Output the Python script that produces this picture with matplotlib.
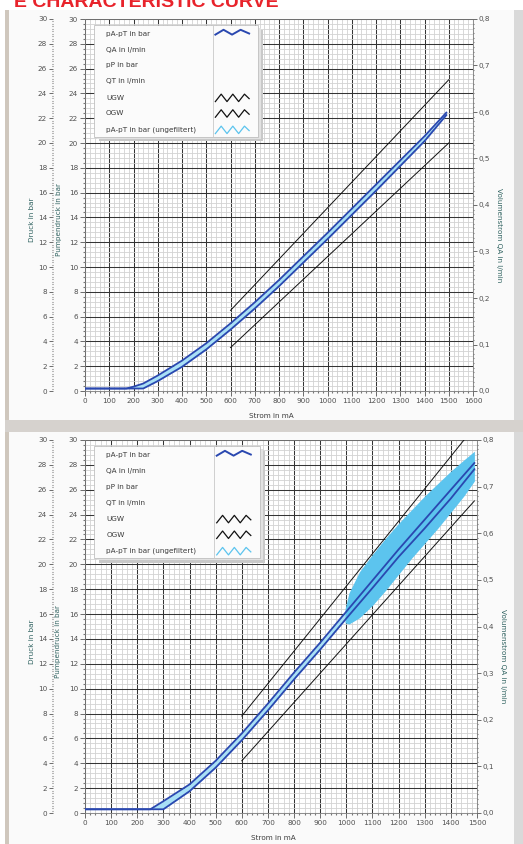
import matplotlib
matplotlib.use('Agg')
import matplotlib.pyplot as plt
from matplotlib.patches import Rectangle
from matplotlib.lines import Line2D
from matplotlib.ticker import MultipleLocator, FuncFormatter, FixedLocator

W, H = 523, 844

# ---------------- data ----------------
title = "E CHARACTERISTIC CURVE"
legend_labels = ["pA-pT in bar", "QA in l/min", "pP in bar", "QT in l/min",
                 "UGW", "OGW", "pA-pT in bar (ungefiltert)"]

# panel 1 (0..1600 mA)
p1_current = [0, 100, 170, 200, 240, 300, 400, 500, 600, 700, 800, 900,
              1000, 1100, 1200, 1300, 1400, 1490]
p1_up = [0.2, 0.2, 0.2, 0.35, 0.6, 1.25, 2.45, 3.85, 5.45, 7.15, 8.95, 10.85,
         12.75, 14.7, 16.65, 18.6, 20.55, 22.45]
p1_down = [0.2, 0.2, 0.2, 0.2, 0.2, 0.8, 1.95, 3.35, 4.95, 6.65, 8.45, 10.35,
           12.25, 14.2, 16.15, 18.15, 20.15, 22.25]
p1_ugw_x = [600, 1500]
p1_ugw_y = [3.5, 20.0]
p1_ogw_x = [600, 1500]
p1_ogw_y = [6.5, 25.1]

# panel 2 (0..1500 mA)
p2_current = [0, 100, 200, 250, 300, 400, 500, 600, 700, 800, 900, 1000,
              1100, 1200, 1300, 1400, 1490]
p2_up = [0.3, 0.3, 0.3, 0.3, 0.95, 2.3, 4.2, 6.4, 8.8, 11.3, 13.7, 16.2,
         18.7, 21.2, 23.6, 26.0, 28.15]
p2_down = [0.3, 0.3, 0.3, 0.3, 0.3, 1.75, 3.65, 5.85, 8.25, 10.75, 13.15, 15.65,
           18.1, 20.6, 22.9, 25.3, 27.65]
p2_ugw_x = [600, 1490]
p2_ugw_y = [4.2, 25.1]
p2_ogw_x = [600, 1500]
p2_ogw_y = [7.8, 31.3]
p2_raw_x = [995, 1010, 1050, 1100, 1150, 1200, 1250, 1300, 1350, 1400, 1450, 1490]
p2_raw_hi = [16.4, 17.7, 19.4, 20.8, 22.1, 23.3, 24.4, 25.5, 26.5, 27.5, 28.4, 29.1]
p2_raw_lo = [15.3, 15.2, 15.7, 16.7, 17.9, 19.2, 20.5, 21.7, 22.9, 24.2, 25.5, 26.7]

x_ticks_1 = list(range(0, 1601, 100))
x_ticks_2 = list(range(0, 1501, 100))
y_ticks = list(range(0, 31, 2))
q_ticks = [0.0, 0.1, 0.2, 0.3, 0.4, 0.5, 0.6, 0.7, 0.8]

# ---------------- style ----------------
DARK = '#2a48b0'
LIGHT = '#5cc4ee'
BAND = '#a8e0f6'
TXT = '#505050'
LBL = '#2f6260'
FS = 5.2

fig = plt.figure(figsize=(W / 100, H / 100), dpi=100)
fig.patch.set_facecolor('#ffffff')


def rect_px(x, y, w, h, **kw):
    fig.add_artist(Rectangle((x / W, 1 - (y + h) / H), w / W, h / H,
                             transform=fig.transFigure, zorder=-1, **kw))


# panel backgrounds / frame
rect_px(9, 10, 506, 410, facecolor='#fafafa', edgecolor='none')
rect_px(9, 432, 506, 412, facecolor='#fafafa', edgecolor='none')
rect_px(5, 10, 4, 834, facecolor='#cfc7bd', edgecolor='none')
rect_px(514, 10, 9, 834, facecolor='#d9d9d9', edgecolor='none')
rect_px(5, 420, 518, 12, facecolor='#d6d2ce', edgecolor='none')

fig.text(14 / W, 1 - 7 / H, title, color='#e8232b', fontsize=14,
         fontweight='bold', family='Liberation Sans', ha='left', va='baseline')


def make_panel(px_left, px_top, px_right, px_bottom, xmax, xticks,
               cur, up, down, ugw_x, ugw_y, ogw_x, ogw_y,
               raw=None, label_y_frac=0.46):
    ax = fig.add_axes([px_left / W, 1 - px_bottom / H,
                       (px_right - px_left) / W, (px_bottom - px_top) / H])
    ax.set_facecolor('white')
    ax.set_xlim(0, xmax)
    ax.set_ylim(0, 30)
    ax.set_axisbelow(True)
    ax.xaxis.set_major_locator(FixedLocator(xticks))
    ax.xaxis.set_minor_locator(MultipleLocator(20))
    ax.yaxis.set_major_locator(FixedLocator(y_ticks))
    ax.yaxis.set_minor_locator(MultipleLocator(0.4))
    ax.grid(which='minor', color='#d2d2d2', lw=0.6)
    ax.grid(which='major', color='#353535', lw=0.75)
    for s in ax.spines.values():
        s.set_color('#7a7a7a')
        s.set_linewidth(0.6)
    ax.tick_params(which='major', direction='out', length=3.5, width=0.6,
                   colors='#555555', labelsize=FS, pad=1.5, labelcolor=TXT)
    ax.tick_params(which='minor', direction='out', length=1.2, width=0.8,
                   colors='#777777')
    ax.set_xlabel('Strom in mA', fontsize=FS, color='#3c3c3c', labelpad=2)
    ax.xaxis.set_label_coords(0.48, -0.06)
    ax.set_ylabel('Pumpendruck in bar', fontsize=FS, color=LBL, labelpad=2)
    ax.yaxis.set_label_coords(-0.06, label_y_frac)

    # curves
    ax.fill_between(cur, down, up, color=BAND, lw=0, zorder=2)
    if raw is not None:
        rx, rlo, rhi = raw
        ax.fill_between(rx, rlo, rhi, color=LIGHT, lw=0, zorder=3)
    ax.plot(cur, up, color=DARK, lw=1.3, zorder=4, solid_joinstyle='round')
    ax.plot(cur, down, color=DARK, lw=1.3, zorder=4, solid_joinstyle='round')
    ax.plot(ugw_x, ugw_y, color='#111111', lw=0.7, zorder=4)
    ax.plot(ogw_x, ogw_y, color='#111111', lw=0.7, zorder=4)

    # outer left axis (Druck)
    ax2 = ax.twinx()
    ax2.set_ylim(0, 30)
    ax2.yaxis.set_ticks_position('left')
    ax2.yaxis.set_label_position('left')
    ax2.spines['left'].set_position(('outward', 23))
    for k in ('left', 'right', 'top', 'bottom'):
        ax2.spines[k].set_visible(False)
    ax2.yaxis.set_major_locator(FixedLocator(y_ticks))
    ax2.yaxis.set_minor_locator(MultipleLocator(0.2))
    ax2.tick_params(which='major', direction='out', length=3, width=0.6,
                    colors='#555555', labelsize=FS, pad=1.2, labelcolor=TXT)
    ax2.tick_params(which='minor', direction='out', length=0.9, width=0.8,
                    colors='#777777')
    ax2.set_ylabel('Druck in bar', fontsize=FS, color=LBL, labelpad=2)
    ax2.yaxis.set_label_coords(-0.128, label_y_frac)

    # right axis (Volumenstrom)
    ax3 = ax.twinx()
    ax3.set_ylim(0, 0.8)
    for k in ('left', 'top', 'bottom', 'right'):
        ax3.spines[k].set_visible(False)
    ax3.yaxis.set_major_locator(FixedLocator(q_ticks))
    ax3.yaxis.set_minor_locator(MultipleLocator(0.01))
    ax3.yaxis.set_major_formatter(FuncFormatter(lambda v, p: f"{v:.1f}".replace('.', ',')))
    ax3.tick_params(which='major', direction='out', length=3, width=0.6,
                    colors='#555555', labelsize=FS, pad=1.2, labelcolor=TXT)
    ax3.tick_params(which='minor', direction='out', length=0.9, width=0.8,
                    colors='#777777')
    ax3.set_ylabel('Volumenstrom QA in l/min', fontsize=FS, color=LBL,
                   rotation=270, labelpad=2)
    ax3.yaxis.set_label_coords(1.075, 0.42)

    # legend box (drawn in axes fraction)
    T = ax.transAxes
    lx0, lx1, ly0, ly1 = 0.024, 0.447, 0.683, 0.983
    div = 0.330
    ax.add_patch(Rectangle((lx0 + 0.012, ly0 - 0.012), lx1 - lx0, ly1 - ly0,
                           transform=T, facecolor='#c9c9c9', edgecolor='none',
                           zorder=6))
    ax.add_patch(Rectangle((lx0 + 0.006, ly0 - 0.006), lx1 - lx0, ly1 - ly0,
                           transform=T, facecolor='#e2e2e2', edgecolor='none',
                           zorder=6))
    ax.add_patch(Rectangle((lx0, ly0), lx1 - lx0, ly1 - ly0, transform=T,
                           facecolor='#fbfbfb', edgecolor='#b5b5b5', lw=0.5,
                           zorder=7))
    ax.add_line(Line2D([div, div], [ly0, ly1], transform=T, color='#c8c8c8',
                       lw=0.6, zorder=8))
    rows = [0.961, 0.918, 0.875, 0.832, 0.788, 0.746, 0.702]
    colors = [DARK, None, None, None, '#111111', '#111111', LIGHT]
    for lab, ry, c in zip(legend_labels, rows, colors):
        ax.text(0.054, ry, lab, transform=T, fontsize=FS, color='#3a3a3a',
                va='center', ha='left', zorder=9)
        if c is None:
            continue
        amp = 0.010
        if c == DARK:
            xs = [0.336, 0.357, 0.379, 0.401, 0.423]
            ys = [ry - amp * 0.3, ry + amp, ry - amp * 0.3, ry + amp, ry]
            lw = 1.4
        else:
            xs = [0.336, 0.351, 0.366, 0.381, 0.396, 0.411, 0.423]
            ys = [ry - amp, ry + amp, ry - amp, ry + amp, ry - amp, ry + amp, ry - amp * 0.2]
            lw = 0.9
        ax.add_line(Line2D(xs, ys, transform=T, color=c, lw=lw, zorder=9))
    return ax


make_panel(85, 19, 473, 391, 1600, x_ticks_1, p1_current, p1_up, p1_down,
           p1_ugw_x, p1_ugw_y, p1_ogw_x, p1_ogw_y)
make_panel(85, 440, 477, 813, 1500, x_ticks_2, p2_current, p2_up, p2_down,
           p2_ugw_x, p2_ugw_y, p2_ogw_x, p2_ogw_y,
           raw=(p2_raw_x, p2_raw_lo, p2_raw_hi))

fig.savefig('out.png', dpi=100, facecolor=fig.get_facecolor())
